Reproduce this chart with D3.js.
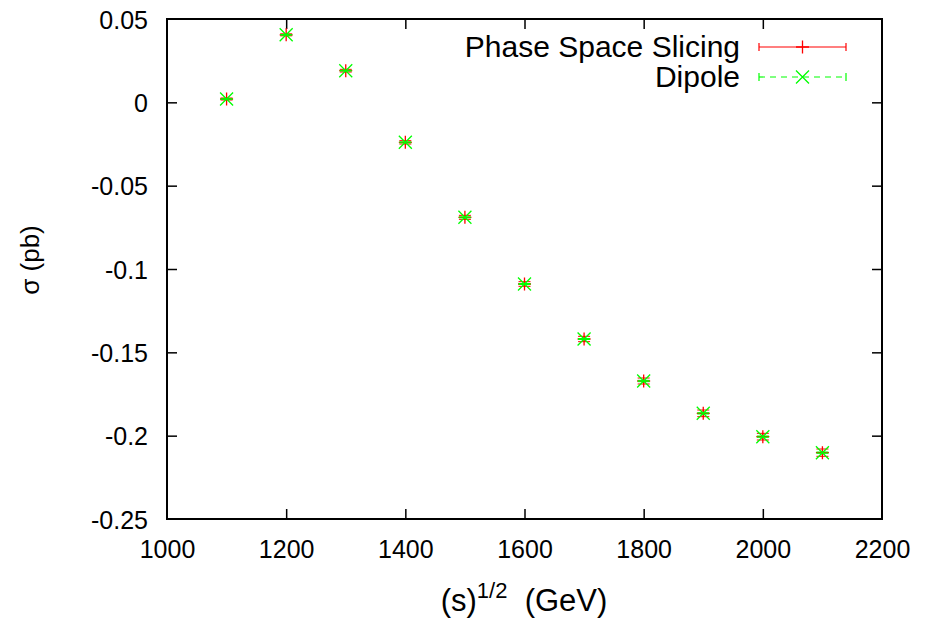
<!DOCTYPE html>
<html>
<head>
<meta charset="utf-8">
<script src="https://cdn.jsdelivr.net/npm/d3@7"></script>
<style>
  html, body { margin: 0; padding: 0; background: #fff; }
  svg { display: block; }
  text { font-family: "Liberation Sans", Arial, sans-serif; fill: #000; }
</style>
</head>
<body>
<svg id="chart" width="925" height="618"></svg>
<script>
// ---- data ----
const energies = [1100, 1200, 1300, 1400, 1500, 1600, 1700, 1800, 1900, 2000, 2100];
const pssValues = [0.002, 0.0405, 0.019, -0.024, -0.069, -0.109, -0.142, -0.1672, -0.1866, -0.2006, -0.2102];
const pssErrors = [0.0006, 0.0006, 0.0008, 0.0010, 0.0012, 0.0014, 0.0016, 0.0018, 0.0020, 0.0020, 0.0022];
const dipoleValues = [0.002, 0.0405, 0.019, -0.024, -0.069, -0.109, -0.142, -0.1672, -0.1866, -0.2006, -0.2102];
const dipoleErrors = [0.0002, 0.0002, 0.0002, 0.0003, 0.0003, 0.0003, 0.0003, 0.0004, 0.0004, 0.0004, 0.0004];
const xTicks = [1000, 1200, 1400, 1600, 1800, 2000, 2200];
const yTicks = [0.05, 0, -0.05, -0.1, -0.15, -0.2, -0.25];
const seriesNames = ["Phase Space Slicing", "Dipole"];

// ---- layout ----
const svg = d3.select("#chart");
const L = 167, R = 882, T = 19, B = 519;
const x = d3.scaleLinear().domain([1000, 2200]).range([L, R]);
const y = d3.scaleLinear().domain([-0.25, 0.05]).range([B, T]);
const tickFs = 25, xLabFs = 31, yLabFs = 26, legFs = 30, tickLen = 10;

// axes with inward ticks (mirrored)
const fmtY = d => d === 0 ? "0" : String(+d.toFixed(2));
const axB = svg.append("g").attr("transform", `translate(0,${B})`)
  .call(d3.axisBottom(x).tickValues(xTicks).tickSize(-tickLen).tickPadding(21).tickFormat(d3.format("d")));
const axT = svg.append("g").attr("transform", `translate(0,${T})`)
  .call(d3.axisTop(x).tickValues(xTicks).tickSize(-tickLen).tickFormat(""));
const axL = svg.append("g").attr("transform", `translate(${L},0)`)
  .call(d3.axisLeft(y).tickValues(yTicks).tickSize(-tickLen).tickPadding(19).tickFormat(fmtY));
const axR = svg.append("g").attr("transform", `translate(${R},0)`)
  .call(d3.axisRight(y).tickValues(yTicks).tickSize(-tickLen).tickFormat(""));
[axB, axT, axL, axR].forEach(a => {
  a.select(".domain").remove();
  a.selectAll(".tick line").attr("stroke", "#000").attr("stroke-width", 1.5);
  a.selectAll(".tick text").attr("font-size", tickFs).attr("font-family", "Liberation Sans, Arial, sans-serif");
});
axB.selectAll(".tick text").attr("dy", "0.71em");
axL.selectAll(".tick text").attr("dy", "0.36em");
// hide tick lines that coincide with frame
axB.selectAll(".tick line").filter(d => d === 1000 || d === 2200).remove();
axT.selectAll(".tick line").filter(d => d === 1000 || d === 2200).remove();
axL.selectAll(".tick line").filter(d => d === 0.05 || d === -0.25).remove();
axR.selectAll(".tick line").filter(d => d === 0.05 || d === -0.25).remove();

// frame
svg.append("rect").attr("x", L).attr("y", T).attr("width", R - L).attr("height", B - T)
  .attr("fill", "none").attr("stroke", "#000").attr("stroke-width", 2);

// axis labels
svg.append("text").attr("transform", `translate(39,260) rotate(-90)`)
  .attr("text-anchor", "middle").attr("font-size", yLabFs).text("σ (pb)");
const xl = svg.append("text").attr("x", 524).attr("y", 611).attr("text-anchor", "middle")
  .attr("font-size", xLabFs).attr("xml:space", "preserve");
xl.append("tspan").text("(s)");
xl.append("tspan").attr("dy", -13).attr("font-size", 22).text("1/2");
xl.append("tspan").attr("dy", 13).text("  (GeV)");

// ---- series ----
const cap = 6, ms = 6.5;
function drawErr(g, xs, vals, errs, color) {
  xs.forEach((e, i) => {
    const cx = x(e), y1 = y(vals[i] - errs[i]), y2 = y(vals[i] + errs[i]);
    g.append("line").attr("x1", cx).attr("x2", cx).attr("y1", y1).attr("y2", y2)
      .attr("stroke", color).attr("stroke-width", 1);
    [y1, y2].forEach(yy => g.append("line").attr("x1", cx - cap).attr("x2", cx + cap)
      .attr("y1", yy).attr("y2", yy).attr("stroke", color).attr("stroke-width", 1));
  });
}
function plus(g, cx, cy, color) {
  g.append("path").attr("d", `M${cx - ms},${cy}H${cx + ms}M${cx},${cy - ms}V${cy + ms}`)
    .attr("stroke", color).attr("stroke-width", 1.3).attr("fill", "none");
}
function cross(g, cx, cy, color) {
  g.append("path").attr("d", `M${cx - ms},${cy - ms}L${cx + ms},${cy + ms}M${cx - ms},${cy + ms}L${cx + ms},${cy - ms}`)
    .attr("stroke", color).attr("stroke-width", 1.3).attr("fill", "none");
}
const gR = svg.append("g"), gG = svg.append("g");
drawErr(gR, energies, pssValues, pssErrors, "#ff0000");
energies.forEach((e, i) => plus(gR, x(e), y(pssValues[i]), "#ff0000"));
drawErr(gG, energies, dipoleValues, dipoleErrors, "#00ff00");
energies.forEach((e, i) => cross(gG, x(e), y(dipoleValues[i]), "#00ff00"));

// ---- legend ----
const lg = svg.append("g");
const lx1 = 759, lx2 = 846, lmid = 802.5;
const rows = [{ name: seriesNames[0], y: 47, color: "#ff0000", dash: null, mark: plus },
              { name: seriesNames[1], y: 77, color: "#00ff00", dash: "6,5", mark: cross }];
rows.forEach(r => {
  lg.append("text").attr("x", 740).attr("y", r.y + 10).attr("text-anchor", "end").attr("font-size", legFs).text(r.name);
  lg.append("line").attr("x1", lx1).attr("x2", lx2).attr("y1", r.y).attr("y2", r.y)
    .attr("stroke", r.color).attr("stroke-width", 1.2).attr("stroke-dasharray", r.dash);
  [lx1, lx2].forEach(xx => lg.append("line").attr("x1", xx).attr("x2", xx).attr("y1", r.y - 4).attr("y2", r.y + 4)
    .attr("stroke", r.color).attr("stroke-width", 1.2));
  r.mark(lg, lmid, r.y, r.color);
});
</script>
</body>
</html>
